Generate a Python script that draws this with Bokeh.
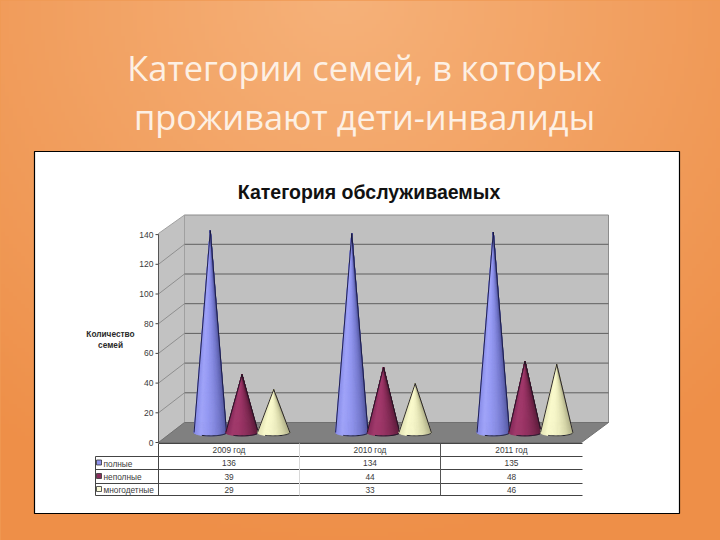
import numpy as np
from bokeh.plotting import figure
from bokeh.models import Range1d
from bokeh.core.properties import value
from bokeh.embed import file_html
from bokeh.resources import INLINE

SLIDE_TITLE = ["Категории семей, в которых", "проживают дети-инвалиды"]
CHART_TITLE = "Категория обслуживаемых"
AXIS_TITLE = ["Количество", "семей"]
YEARS = ["2009 год", "2010 год", "2011 год"]
SERIES = ["полные", "неполные", "многодетные"]
FULL = [136, 134, 135]
SINGLE = [39, 44, 48]
LARGE = [29, 33, 46]
TICKS = [0, 20, 40, 60, 80, 100, 120, 140]
SHADES = [
    [(136, 140, 232), (160, 164, 250), (150, 154, 244), (136, 140, 228), (116, 120, 204), (88, 92, 165)],
    [(134, 42, 90), (162, 58, 108), (158, 54, 104), (144, 48, 94), (124, 40, 80), (96, 30, 62)],
    [(226, 226, 180), (251, 251, 204), (248, 248, 202), (236, 236, 190), (216, 216, 170), (178, 178, 138)],
]
KEY = ["#8f93ee", "#8a2c5c", "#fbfbd8"]

PX = 1.485          # page pixels per value unit
W, H = 720, 540
ZERO_PX = 442

p = figure(width=W, height=H, output_backend="svg", toolbar_location=None,
           x_range=Range1d(0, W),
           y_range=Range1d((ZERO_PX - H) / PX, ZERO_PX / PX),
           min_border=0, outline_line_color=None)
p.extra_y_ranges = {"page": Range1d(H, 0)}
p.xaxis.visible = False
p.yaxis.visible = False
p.grid.visible = False
p.background_fill_color = "#f09a55"
p.border_fill_color = "#f09a55"

# slide background
yy, xx = np.mgrid[0:H:4, 0:W:4]
d = np.sqrt(((xx - 340) / 560.0) ** 2 + ((yy + 10) / 560.0) ** 2).clip(0, 1)
a = np.array([246, 178, 122]); b = np.array([238, 143, 72])
img = np.zeros(xx.shape, dtype=np.uint32)
v = img.view(dtype=np.uint8).reshape((*xx.shape, 4))
for i in range(3):
    v[..., i] = (a[i] + (b[i] - a[i]) * d).astype(np.uint8)
v[..., 3] = 255
p.image_rgba(image=[img[::-1]], x=0, y=(ZERO_PX - H) / PX, dw=W, dh=H / PX)

PG = dict(y_range_name="page")
# chart sheet
p.quad(left=34, right=679, top=151, bottom=513, fill_color="white",
       line_color="black", line_width=1.2, **PG)

# 3D box
L, LB, R, RB = 158, 184, 581, 608
p.patch([LB, RB, RB, LB], [214.5, 214.5, 422, 422], fill_color="#c0c0c0", line_color="#8c8c8c", line_width=1, **PG)
p.patch([L, LB, LB, L], [233, 214.5, 422, 442], fill_color="#c2c2c2", line_color="#a0a0a0", line_width=1, **PG)
p.patch([L, LB, RB, R], [442, 422, 422, 442], fill_color="#808080", line_color="#707070", line_width=1, **PG)

for t in TICKS[1:-1]:
    yb = 422 - t * PX
    yf = ZERO_PX - t * PX
    p.line([LB, RB], [yb, yb], line_color="#5f5f5f", line_width=1, **PG)
    p.line([L, LB], [yf, yb], line_color="#8f8f8f", line_width=1, **PG)
p.segment(x0=[L - 3] * len(TICKS), x1=[L] * len(TICKS), y0=TICKS, y1=TICKS, line_color="#444444", line_width=1)
p.line([L, L], [0, 140], line_color="#555555", line_width=1)
p.text(x=[L - 5] * len(TICKS), y=TICKS, text=[str(t) for t in TICKS], text_align="right",
       text_baseline="middle", text_font=value("Liberation Sans"), text_font_size="8.5px", text_color="#3a3a3a")

# data table
TL, TR = 95, 582
COLS = [158, 299, 440, 582]
ROWS = [443, 456, 469, 483, 495]
for i, y in enumerate(ROWS):
    x0 = L if i == 0 else TL
    p.line([x0, TR], [y, y], line_color="#444444", line_width=1, **PG)
p.line([TL, TL], [ROWS[1], ROWS[4]], line_color="#444444", line_width=1, **PG)
p.line([COLS[0], COLS[0]], [ROWS[0], ROWS[4]], line_color="#444444", line_width=1, **PG)
p.line([COLS[1], COLS[1]], [ROWS[0], ROWS[4]], line_color="#d8d8d8", line_width=1, **PG)
p.line([COLS[2], COLS[2]], [ROWS[0], ROWS[4]], line_color="#555555", line_width=1, **PG)
CENTERS = [(COLS[i] + COLS[i + 1]) / 2 for i in range(3)]
TXT = dict(text_font=value("Liberation Sans"), text_font_size="8.3px", text_color="#3a3a3a",
           text_baseline="middle")
p.text(x=CENTERS, y=[449.5] * 3, text=YEARS, text_align="center", **TXT, **PG)
for row, vals in enumerate([FULL, SINGLE, LARGE]):
    yc = (ROWS[row + 1] + ROWS[row + 2]) / 2
    p.text(x=CENTERS, y=[yc] * 3, text=[str(q) for q in vals], text_align="center", **TXT, **PG)
    p.rect(x=[98.5], y=[yc - 0.5], width=5, height=5, fill_color=KEY[row], line_color="#333333", line_width=0.8, **PG)
    p.text(x=[103], y=[yc + 0.5], text=[SERIES[row]], text_align="left", **TXT, **PG)

# cones
GROUP_X = [241.5, 383, 524.5]
OFFSET = [-31.7, 0, 31.7]
BASE = (ZERO_PX - 432) / PX
RAD = 16.2
ELL = 3.4 / PX
N = 40
for s, vals in enumerate([FULL, SINGLE, LARGE]):
    stops = np.array(SHADES[s], dtype=float)
    pos = np.linspace(0, 1, len(stops))
    for g, val in enumerate(vals):
        cx = GROUP_X[g] + OFFSET[s]
        th = np.linspace(np.pi, 0, N + 1)
        bx = cx + RAD * np.cos(th)
        by = BASE - ELL * np.sin(th)
        xs, ys, cols = [], [], []
        for i in range(N):
            xs.append([cx, bx[i], bx[i + 1]])
            ys.append([val + BASE, by[i], by[i + 1]])
            f = (bx[i] - bx[0]) / (2 * RAD)
            rgb = [int(np.interp(f, pos, stops[:, c])) for c in range(3)]
            cols.append("#%02x%02x%02x" % tuple(rgb))
        p.patches(xs, ys, fill_color=cols, line_color=cols, line_width=0.8)
        p.line([bx[0], cx, bx[-1]], [by[0], val + BASE, by[-1]], line_color="#14143a" if s == 0 else "#1a1420", line_width=0.9)
        p.line(bx[N // 3:], by[N // 3:], line_color="#1a1a2a", line_width=1)

# texts
p.text(x=[364, 364], y=[67, 116], text=SLIDE_TITLE, text_align="center", text_baseline="middle",
       text_font=value("Open Sans"), text_font_size="34.4px", text_color="#fdf0e4", **PG)
p.text(x=[368.5], y=[191], text=[CHART_TITLE], text_align="center", text_baseline="middle",
       text_font=value("Liberation Sans"), text_font_style="bold", text_font_size="19.5px", text_color="#111111", **PG)
p.text(x=[110, 110], y=[333, 344], text=AXIS_TITLE, text_align="center", text_baseline="middle",
       text_font=value("Liberation Sans"), text_font_style="bold", text_font_size="8.3px", text_color="#2a2a2a", **PG)

html = file_html(p, INLINE)
html = html.replace("<head>", "<head><style>html,body{margin:0;padding:0;overflow:hidden;background:#f09a55}</style>", 1)
open("out.html", "w").write(html)
